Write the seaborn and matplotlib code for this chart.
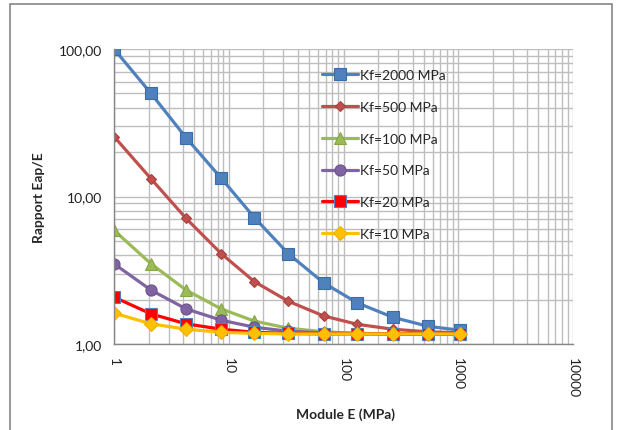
import numpy as np
import pandas as pd
import seaborn as sns
import matplotlib.pyplot as plt
from matplotlib.patches import Rectangle
from matplotlib.ticker import FuncFormatter, LogLocator, NullFormatter

sns.set_style("white")
plt.rcParams['font.family'] = ['Lato', 'DejaVu Sans']

# %% Data

module_e = [1, 2.1, 4.25, 8.6, 16.7, 33, 67, 132, 268, 540, 1030]

kf_2000 = [100.0, 50.0, 25.0, 13.3, 7.2, 4.1, 2.6, 1.9, 1.52, 1.32, 1.24]
kf_500 = [25.5, 13.2, 7.1, 4.1, 2.65, 1.95, 1.55, 1.36, 1.26, 1.21, 1.19]
kf_100 = [5.9, 3.5, 2.32, 1.73, 1.43, 1.28, 1.21, 1.18, 1.17, 1.17, 1.17]
kf_50 = [3.5, 2.32, 1.73, 1.45, 1.30, 1.22, 1.19, 1.18, 1.17, 1.17, 1.17]
kf_20 = [2.08, 1.6, 1.37, 1.26, 1.2, 1.18, 1.17, 1.17, 1.17, 1.17, 1.17]
kf_10 = [1.62, 1.37, 1.26, 1.2, 1.18, 1.17, 1.17, 1.17, 1.17, 1.17, 1.17]

series_labels = ['Kf=2000 MPa', 'Kf=500 MPa', 'Kf=100 MPa',
                 'Kf=50 MPa', 'Kf=20 MPa', 'Kf=10 MPa']
series_values = [kf_2000, kf_500, kf_100, kf_50, kf_20, kf_10]

data = pd.DataFrame({
    'Module E': module_e * len(series_labels),
    'Rapport': np.concatenate(series_values),
    'Serie': np.repeat(series_labels, len(module_e)),
})

# %% Styles

styles = {
    'Kf=2000 MPa': dict(color='#4F81BD', marker='s', ms=9, mec='#3A6CA8'),
    'Kf=500 MPa': dict(color='#C0504D', marker='D', ms=5, mec='#A8403D'),
    'Kf=100 MPa': dict(color='#9BBB59', marker='^', ms=8, mec='#86A646'),
    'Kf=50 MPa': dict(color='#8064A2', marker='o', ms=8, mec='#6C5190'),
    'Kf=20 MPa': dict(color='#FF0000', marker='s', ms=8, mec='#4F81BD'),
    'Kf=10 MPa': dict(color='#FFC000', marker='D', ms=7, mec='#F0B000'),
}

# %% Plot

fig = plt.figure(figsize=(6.23, 4.31), dpi=100)
ax = fig.add_axes([114 / 623, 1 - 345 / 431, 459 / 623, 295 / 431])

for label in series_labels:
    st = styles[label]
    sns.lineplot(
        data=data[data.Serie == label],
        x='Module E', y='Rapport',
        color=st['color'], marker=st['marker'], markersize=st['ms'],
        markeredgecolor=st['mec'], markeredgewidth=0.8,
        linewidth=2.3, label=label, ax=ax,
    )

ax.set_xscale('log')
ax.set_yscale('log')
ax.set_xlim(1, 10000)
ax.set_ylim(1, 100)

ax.xaxis.set_major_locator(LogLocator(base=10, numticks=10))
ax.xaxis.set_minor_locator(LogLocator(base=10, subs=np.arange(2, 10), numticks=50))
ax.yaxis.set_major_locator(LogLocator(base=10, numticks=10))
ax.yaxis.set_minor_locator(LogLocator(base=10, subs=np.arange(2, 10), numticks=50))
ax.xaxis.set_major_formatter(FuncFormatter(lambda v, p: f'{v:.0f}'))
ax.yaxis.set_major_formatter(FuncFormatter(lambda v, p: f'{v:.2f}'.replace('.', ',')))
ax.xaxis.set_minor_formatter(NullFormatter())
ax.yaxis.set_minor_formatter(NullFormatter())

ax.grid(which='both', color='#BEBEBE', linewidth=1.0)
ax.set_axisbelow(True)
for side in ['top', 'right']:
    ax.spines[side].set_visible(False)
for side in ['left', 'bottom']:
    ax.spines[side].set_color('#868686')
    ax.spines[side].set_linewidth(1.0)

ax.tick_params(axis='both', which='major', direction='out', length=5,
               color='#868686', labelsize=10, labelcolor='#222222')
ax.tick_params(axis='both', which='minor', length=0)
ax.tick_params(axis='x', labelrotation=-90, pad=4)

ax.set_xlabel('Module E (MPa)', fontweight='bold', fontsize=10)
ax.set_ylabel('Rapport Eap/E', fontweight='bold', fontsize=10)
ax.xaxis.set_label_coords(0.505, -0.215)
ax.yaxis.set_label_coords(-0.15, 0.5)

ax.legend(loc='upper left', bbox_to_anchor=(0.44, 0.95), frameon=False,
          labelspacing=1.42, handlelength=2.6, handletextpad=0.2,
          fontsize=10, borderaxespad=0)

# outer chart frame
fig.patches.append(Rectangle((10 / 623, -0.05), 602 / 623, 1 - 5 / 431 + 0.05,
                             transform=fig.transFigure, fill=False,
                             edgecolor='#868686', linewidth=1.2))

fig.savefig('out.png', dpi=100)
